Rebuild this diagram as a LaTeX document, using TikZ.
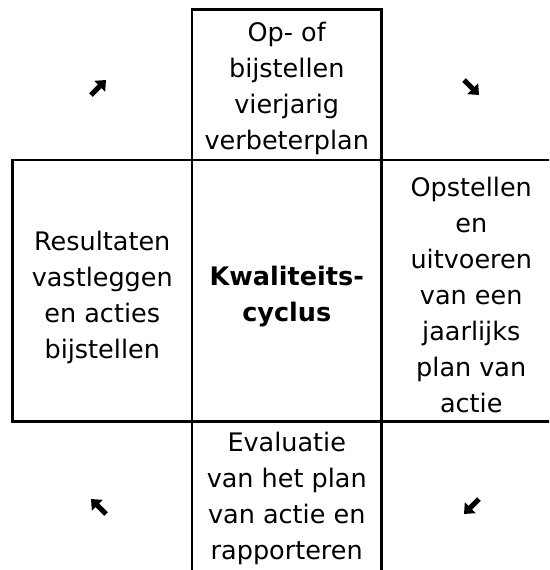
\documentclass[tikz,border=0pt]{standalone}
\usepackage{fontspec}
\setmainfont{DejaVu Sans}
\usetikzlibrary{arrows.meta}
\begin{document}
\begin{tikzpicture}[x=1pt,y=-1pt,
  cell/.style={draw, line width=2.4pt, rectangle, inner sep=0pt},
  txt/.style={align=center, font=\fontsize{25.5}{36}\selectfont, inner sep=0pt},
  arr/.style={line width=5pt, -{Triangle[length=9pt,width=15pt]}}]
\useasboundingbox (0,0) rectangle (549,570);
\clip (0,0) rectangle (549,570);
% cells
\node[cell, minimum width=189.5pt, minimum height=150.5pt] (ctop) at (286.75,84.75) {};
\node[cell, minimum width=179.5pt, minimum height=261.5pt] (cleft) at (102.25,290.75) {};
\node[cell, minimum width=189.5pt, minimum height=261.5pt] (cmid) at (286.75,290.75) {};
\node[cell, minimum width=179.5pt, minimum height=261.5pt] (cright) at (471.25,290.75) {};
\node[cell, minimum width=189.5pt, minimum height=178.5pt] (cbot) at (286.75,510.75) {};
% texts
\node[txt] (ttop) at (286.75,88) {Op- of\\bijstellen\\vierjarig\\verbeterplan};
\node[txt] (tleft) at (102.25,297) {Resultaten\\vastleggen\\en acties\\bijstellen};
\node[txt, font=\fontsize{25.5}{36}\selectfont\bfseries] (tmid) at (286.75,297) {Kwaliteits-\\cyclus};
\node[txt] (tright) at (471.25,295) {Opstellen\\en\\uitvoeren\\van een\\jaarlijks\\plan van\\actie};
\node[txt] (tbot) at (286.75,498) {Evaluatie\\van het plan\\van actie en\\rapporteren};
% arrows
\coordinate (a1s) at (91,95);   \coordinate (a1e) at (106,80);
\coordinate (a2s) at (464,80);  \coordinate (a2e) at (479,95);
\coordinate (a3s) at (106,514); \coordinate (a3e) at (91,499);
\coordinate (a4s) at (479,499); \coordinate (a4e) at (464,514);
\draw[arr] (a1s) -- (a1e);
\draw[arr] (a2s) -- (a2e);
\draw[arr] (a3s) -- (a3e);
\draw[arr] (a4s) -- (a4e);
\end{tikzpicture}
\end{document}
